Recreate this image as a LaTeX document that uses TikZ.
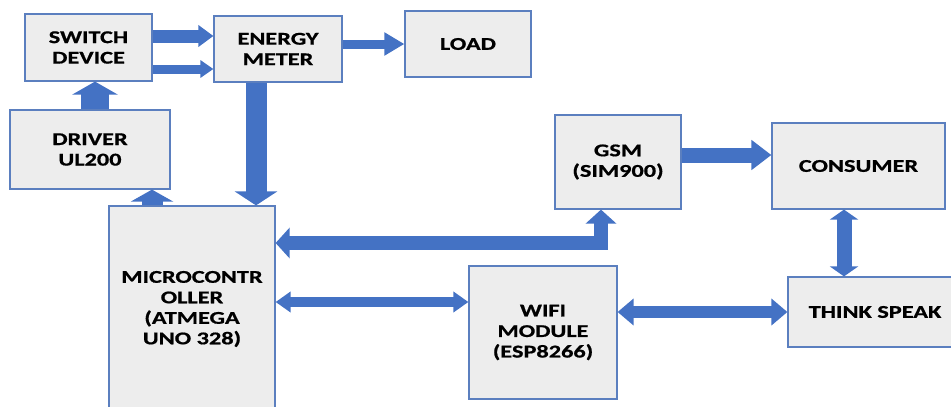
\documentclass[tikz,border=0pt]{standalone}
\usepackage{fontspec}
\setmainfont{Carlito}[FakeStretch=1.35, BoldFeatures={FakeBold=0.8}]
\usepackage{xcolor}
\usetikzlibrary{arrows.meta}
\definecolor{boxedge}{HTML}{5B7FBF}
\definecolor{boxgray}{HTML}{EDEDED}
\definecolor{flowblue}{HTML}{4472C4}

\begin{document}
\begin{tikzpicture}[x=1pt,y=-1pt,
  block/.style={draw=boxedge, line width=1.2pt, fill=boxgray, align=center,
    inner sep=0pt, font=\fontsize{18}{20.5}\selectfont\bfseries},
  oneway/.style n args={3}{draw=flowblue, line width=#1,
    -{Triangle[width=#2,length=#3]}},
  twoway/.style n args={3}{draw=flowblue, line width=#1,
    {Triangle[width=#2,length=#3]}-{Triangle[width=#2,length=#3]}}
]
\useasboundingbox (0,0) rectangle (951,407);
\clip (0,0) rectangle (951,407);

\node[block, minimum width=127pt, minimum height=67pt] (sw) at (88.5,47.5) {SWITCH\\DEVICE};
\node[block, minimum width=128pt, minimum height=66pt] (em) at (278,49) {ENERGY\\METER};
\node[block, minimum width=126pt, minimum height=66pt] (load) at (468,44) {LOAD};
\node[block, minimum width=160pt, minimum height=79pt] (drv) at (90,149.5) {DRIVER\\UL200};
\node[block, minimum width=166pt, minimum height=206pt] (mcu) at (192,309) {MICROCONTR\\OLLER\\(ATMEGA\\UNO 328)};
\node[block, minimum width=126pt, minimum height=94pt] (gsm) at (618,162) {GSM\\(SIM900)};
\node[block, minimum width=173pt, minimum height=86pt] (con) at (858.5,166) {CONSUMER};
\node[block, minimum width=148pt, minimum height=133pt] (wifi) at (543,332.5) {WIFI\\MODULE\\(ESP8266)};
\node[block, minimum width=174pt, minimum height=70pt] (ts) at (875,312) {THINK SPEAK};

\draw[oneway={13pt}{21pt}{15pt}] ([yshift=11.5pt]sw.east) -- ([yshift=11.5pt]sw.east -| em.west);
\draw[oneway={9pt}{17pt}{13pt}] ([yshift=-21.5pt]sw.east) -- ([yshift=-21.5pt]sw.east -| em.west);
\draw[oneway={9pt}{22pt}{20pt}] (em.east |- load.west) -- (load.west);
\draw[oneway={28pt}{45pt}{13pt}] ([xshift=5pt]drv.north) -- ([xshift=5pt]drv.north |- sw.south);
\draw[oneway={21pt}{42pt}{14pt}] ([xshift=-22pt]em.south) -- ([xshift=-22pt]em.south |- mcu.north);
\draw[oneway={21pt}{42pt}{12pt}] ([xshift=-40pt]mcu.north) -- ([xshift=-40pt]mcu.north |- drv.south);
\draw[twoway={14pt}{30pt}{14pt}, line join=miter] ([yshift=66pt]mcu.east) -| ([xshift=-17pt]gsm.south);
\draw[twoway={10pt}{20pt}{15pt}] ([yshift=7pt]mcu.east) -- ([yshift=7pt]mcu.east -| wifi.west);
\draw[oneway={15pt}{29pt}{20pt}] ([yshift=7pt]gsm.east) -- ([yshift=7pt]gsm.east -| con.west);
\draw[twoway={15pt}{28pt}{10pt}] ([xshift=-14.5pt]con.south) -- ([xshift=-14.5pt]con.south |- ts.north);
\draw[twoway={12pt}{26pt}{16pt}] (wifi.east |- ts.west) -- (ts.west);
\end{tikzpicture}
\end{document}
